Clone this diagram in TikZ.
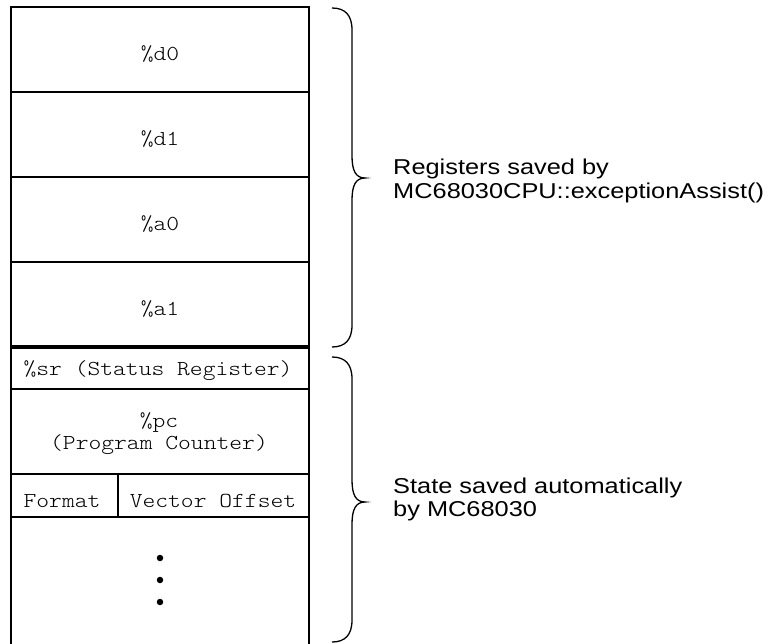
\documentclass[tikz,border=0pt]{standalone}
\usepackage{fontspec}
\newfontfamily\lblfont[FakeStretch=1.18]{Liberation Sans}
\newfontfamily\regfont[FakeStretch=1.145]{Latin Modern Mono Light}
\begin{document}
\begin{tikzpicture}[x=1pt,y=-1pt,
  cell/.style={draw, line width=1.6pt, rectangle, anchor=north west, outer sep=0pt, inner sep=0pt},
  regtext/.style={font=\regfont\fontsize{21.3}{22}\selectfont, inner sep=0pt, align=center},
  lbltext/.style={font=\lblfont\fontsize{21.5}{23.5}\selectfont, inner sep=0pt, align=left, anchor=west},
  bracepath/.style={line width=1.3pt},
  dotmark/.style={circle, fill, minimum size=6.5pt, inner sep=0pt}]
\useasboundingbox (0,0) rectangle (768,643);
% register cells
\node[cell, minimum width=298pt, minimum height=85pt] (d0) at (11,7) {};
\node[cell, minimum width=298pt, minimum height=85pt] (d1) at (11,92) {};
\node[cell, minimum width=298pt, minimum height=85pt] (a0) at (11,177) {};
\node[cell, minimum width=298pt, minimum height=84pt] (a1) at (11,262) {};
\node[cell, minimum width=298pt, minimum height=41pt] (sr) at (11,348) {};
\node[cell, minimum width=298pt, minimum height=85pt] (pc) at (11,389) {};
\node[cell, minimum width=107pt, minimum height=43pt] (fmt) at (11,474) {};
\node[cell, minimum width=191pt, minimum height=43pt] (vec) at (118,474) {};
\coordinate (bl) at (11,650);
\coordinate (br) at (309,650);
\draw[line width=1.6pt] (fmt.south west) -- (bl);
\draw[line width=1.6pt] (vec.south east) -- (br);
% texts
\node[regtext, anchor=base] (td0) at (160,60) {\%d0};
\node[regtext, anchor=base] (td1) at (160,145) {\%d1};
\node[regtext, anchor=base] (ta0) at (160,230) {\%a0};
\node[regtext, anchor=base] (ta1) at (160,315) {\%a1};
\node[regtext, anchor=base] (tsr) at (158,375) {\%sr (Status Register)};
\node[regtext, anchor=center] (tpc) at (159,433.5) {\%pc\\(Program Counter)};
\node[regtext, anchor=base] (tfmt) at (62,507) {Format};
\node[regtext, anchor=base] (tvec) at (213,507) {Vector Offset};
% dots
\node[dotmark] (dot1) at (160,558) {};
\node[dotmark] (dot2) at (160,580) {};
\node[dotmark] (dot3) at (160,602) {};
% braces
\coordinate (b1top) at (332,8);
\coordinate (b1tip) at (365,178);
\coordinate (b1bot) at (332,347);
\draw[bracepath] (b1top) .. controls (345,8) and (352,15) .. (352,30) -- (352,156)
  .. controls (352,171) and (356,178) .. (b1tip)
  .. controls (356,178) and (352,185) .. (352,200) -- (352,325)
  .. controls (352,340) and (345,347) .. (b1bot);
\coordinate (b2top) at (332,357);
\coordinate (b2tip) at (365,502);
\coordinate (b2bot) at (332,642);
\draw[bracepath] (b2top) .. controls (345,357) and (352,364) .. (352,379) -- (352,480)
  .. controls (352,495) and (356,502) .. (b2tip)
  .. controls (356,502) and (352,509) .. (352,524) -- (352,620)
  .. controls (352,635) and (345,642) .. (b2bot);
% labels
\node[lbltext] (lab1) at (393,181) {Registers saved by\\MC68030CPU::exceptionAssist()};
\node[lbltext] (lab2) at (393,499.5) {State saved automatically\\by MC68030};
\end{tikzpicture}
\end{document}
